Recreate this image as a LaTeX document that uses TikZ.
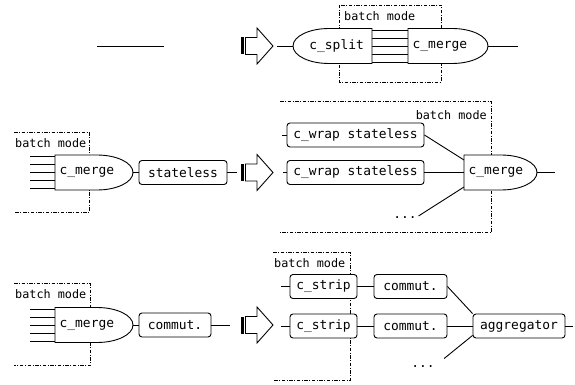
\documentclass[tikz,border=0pt]{standalone}
\usepackage{fontspec}
\setmonofont{DejaVu Sans Mono}
\usetikzlibrary{calc}

\tikzset{
  % half-elliptic merge gate: flat input side at the origin, round output end on the right
  pics/mergegate/.style n args={3}{code={
    \draw[gate] (0,-#3) -- (#2,-#3)
      arc[start angle=-90,end angle=90,x radius=36,y radius=#3] -- (0,#3) -- cycle;
    \node[anchor=west, inner sep=0pt] (-lbl) at (4.5,0) {#1};
    \coordinate (-in) at (0,0);
    \coordinate (-nw) at (0,-12.5);
    \coordinate (-sw) at (0,14.5);
    \coordinate (-out) at (#2+36,0);
  }},
  % mirrored gate: round input end on the left, flat output side at the origin
  pics/splitgate/.style n args={3}{code={
    \draw[gate] (0,-#3) -- (-#2,-#3)
      arc[start angle=-90,end angle=-270,x radius=36,y radius=#3] -- (0,#3) -- cycle;
    \node[anchor=east, inner sep=0pt] (-lbl) at (-8,0) {#1};
    \coordinate (-in) at (-#2-36,0);
    \coordinate (-out) at (0,0);
  }},
  % outlined block arrow with a solid bar at its tail
  pics/bigarrow/.style={code={
    \fill (0,-8.5) rectangle (3.2,8.5);
    \draw[line width=0.9pt, line join=miter]
      (4.5,-8.5) -- (16,-8.5) -- (16,-18) -- (32,0) -- (16,18) -- (16,8.5) -- (4.5,8.5) -- cycle;
    \coordinate (-tip) at (32,0);
  }},
}

\begin{document}
\begin{tikzpicture}[x=1pt,y=-1pt,
  every node/.style={font=\ttfamily\fontsize{12.9}{14}\selectfont, text=black},
  wire/.style={line width=0.9pt},
  box/.style={draw, line width=0.9pt, rounded corners=3pt, fill=white,
    minimum height=24pt, inner sep=0pt},
  gate/.style={draw, line width=0.9pt, fill=white},
  batch/.style={line width=0.8pt, dash pattern=on 3.5pt off 1.5pt on 1pt off 1.5pt},
  batchlbl/.style={font=\ttfamily\fontsize{11.8}{13}\selectfont, inner sep=0pt},
  dots/.style={inner sep=0pt, anchor=base},
]
\fill[white] (0,0) rectangle (575,385);
\useasboundingbox (0,0) rectangle (575,385);

% ---------------- first row ----------------
\coordinate (l1a) at (97,46);
\coordinate (l1b) at (164,46);
\draw[wire] (l1a) -- (l1b);

\draw[batch] (339,5) rectangle (441,82);
\node[batchlbl, anchor=west] (bm1) at (344,16) {batch mode};

\pic (a1) at (241,46) {bigarrow};
\coordinate (s1) at (277,46);
\coordinate (o1) at (518,46);

\foreach \k in {-16,-8,0,8,16}
  \draw[wire] ($(372,46)+(0,\k)$) -- ($(408,46)+(0,\k)$);
\pic (sp1) at (372,46) {splitgate={c\_split}{43}{17.5}};
\pic (mg1) at (408,46) {mergegate={c\_merge}{44}{17.5}};
\draw[wire] (s1) -- (sp1-in);
\draw[wire] (mg1-out) -- (o1);

% ---------------- second row ----------------
\draw[batch] (14,132) -- (89,132) -- (89,212) -- (14,212);
\node[batchlbl, anchor=west] (bm2) at (15,143) {batch mode};
\foreach \k in {-16,-8,0,8,16}
  \draw[wire] ($(30,172.5)+(0,\k)$) -- ($(55,172.5)+(0,\k)$);
\pic (mg2) at (55,172.5) {mergegate={c\_merge}{42}{17.5}};
\node[box, minimum width=88pt] (st) at (183,172.5) {stateless};
\coordinate (e2) at (237,172.5);
\draw[wire] (mg2-out) -- (st);
\draw[wire] (st) -- (e2);

\pic (a2) at (241,172.5) {bigarrow};

\draw[batch] (280,101.5) -- (491,101.5) -- (491,232.5) -- (280,232.5);
\node[batchlbl, anchor=east] (bm3) at (487,115) {batch mode};
\coordinate (s2a) at (282,135);
\coordinate (s2b) at (283,172.5);
\coordinate (o2) at (555,172.5);
\node[box, minimum width=137pt] (wr1) at (355.5,135) {c\_wrap stateless};
\node[box, minimum width=137pt] (wr2) at (355.5,172.5) {c\_wrap stateless};
\node[dots] (d2) at (405,218) {...};
\pic (mg3) at (464,172.5) {mergegate={c\_merge}{37}{17.5}};
\draw[wire] (s2a) -- (wr1);
\draw[wire] (s2b) -- (wr2);
\draw[wire] (wr1.east) -- (mg3-nw);
\draw[wire] (wr2) -- (mg3-in);
\draw[wire, shorten <=2pt] (d2.east) -- (mg3-sw);
\draw[wire] (mg3-out) -- (o2);

% ---------------- third row ----------------
\draw[batch] (14,283.5) -- (90.5,283.5) -- (90.5,365) -- (14,365);
\node[batchlbl, anchor=west] (bm4) at (15,294.5) {batch mode};
\foreach \k in {-16,-8,0,8,16}
  \draw[wire] ($(30,325)+(0,\k)$) -- ($(55,325)+(0,\k)$);
\pic (mg4) at (55,325) {mergegate={c\_merge}{42}{17.5}};
\node[box, minimum width=72pt] (cm0) at (175,325) {commut.};
\coordinate (e3) at (230,325);
\draw[wire] (mg4-out) -- (cm0);
\draw[wire] (cm0) -- (e3);

\pic (a3) at (241,325) {bigarrow};

\draw[batch] (273,252) -- (350,252) -- (350,380) -- (273,380);
\node[batchlbl, anchor=west] (bm5) at (274,263) {batch mode};
\coordinate (s3a) at (281,286.5);
\coordinate (s3b) at (281,326);
\coordinate (o3) at (573,326);
\node[box, minimum width=67pt] (sr1) at (323.5,286.5) {c\_strip};
\node[box, minimum width=67pt] (sr2) at (323.5,326) {c\_strip};
\node[box, minimum width=73pt] (cm1) at (410.5,286.5) {commut.};
\node[box, minimum width=73pt] (cm2) at (410.5,326) {commut.};
\node[box, minimum width=92pt] (agg) at (519,326) {aggregator};
\node[dots] (d3) at (423,367) {...};
\draw[wire] (s3a) -- (sr1);
\draw[wire] (s3b) -- (sr2);
\draw[wire] (sr1) -- (cm1);
\draw[wire] (sr2) -- (cm2);
\draw[wire] (cm1.east) -- (agg.north west);
\draw[wire] (cm2) -- (agg);
\draw[wire, shorten <=12pt] (d3.east) -- ([yshift=3pt]agg.south west);
\draw[wire] (agg) -- (o3);
\end{tikzpicture}
\end{document}
